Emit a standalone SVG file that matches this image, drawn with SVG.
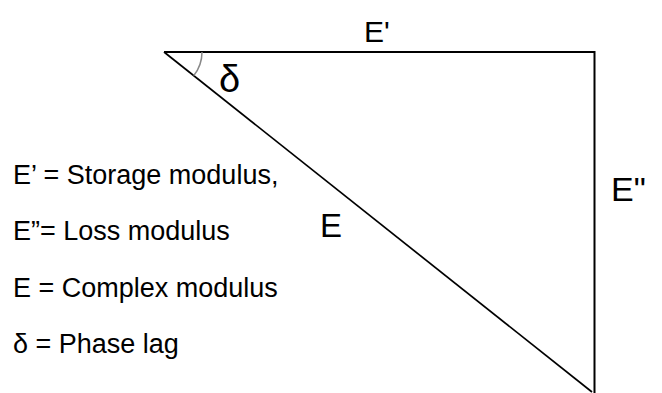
<svg xmlns="http://www.w3.org/2000/svg" width="662" height="393" viewBox="0 0 662 393">
  <style>
    .edge { stroke: #000; stroke-width: 2; fill: none; }
    .arc { stroke: #888; stroke-width: 1.5; fill: none; }
    .lbl { font-family: "Liberation Sans", Arial, sans-serif; fill: #000; }
    .legend { font-family: "Liberation Sans", Arial, sans-serif; font-size: 27px; fill: #000; }
  </style>
  <rect width="662" height="393" fill="#fff"/>
  <g id="connectors">
    <line class="edge" x1="164" y1="52" x2="595" y2="52"/>
    <line class="edge" x1="594.5" y1="51" x2="594.5" y2="393"/>
    <line class="edge" x1="164" y1="52" x2="592" y2="392" style="stroke-width:1.7"/>
    <path class="arc" d="M202,52 A38,38 0 0 1 193.75,75.64"/>
  </g>
  <g id="label-Eprime"><text class="lbl" x="364" y="42" font-size="30">E'</text></g>
  <g id="label-delta"><text class="lbl" x="219" y="92" font-size="38">δ</text></g>
  <g id="label-E"><text class="lbl" x="320" y="237" font-size="33">E</text></g>
  <g id="label-Edouble"><text class="lbl" x="611" y="201" font-size="34">E"</text></g>
  <g id="legend">
    <text class="legend" x="13" y="184">E’ = Storage modulus,</text>
    <text class="legend" x="13" y="240">E”= Loss modulus</text>
    <text class="legend" x="13" y="297">E = Complex modulus</text>
    <text class="legend" x="13" y="353">δ = Phase lag</text>
  </g>
</svg>
